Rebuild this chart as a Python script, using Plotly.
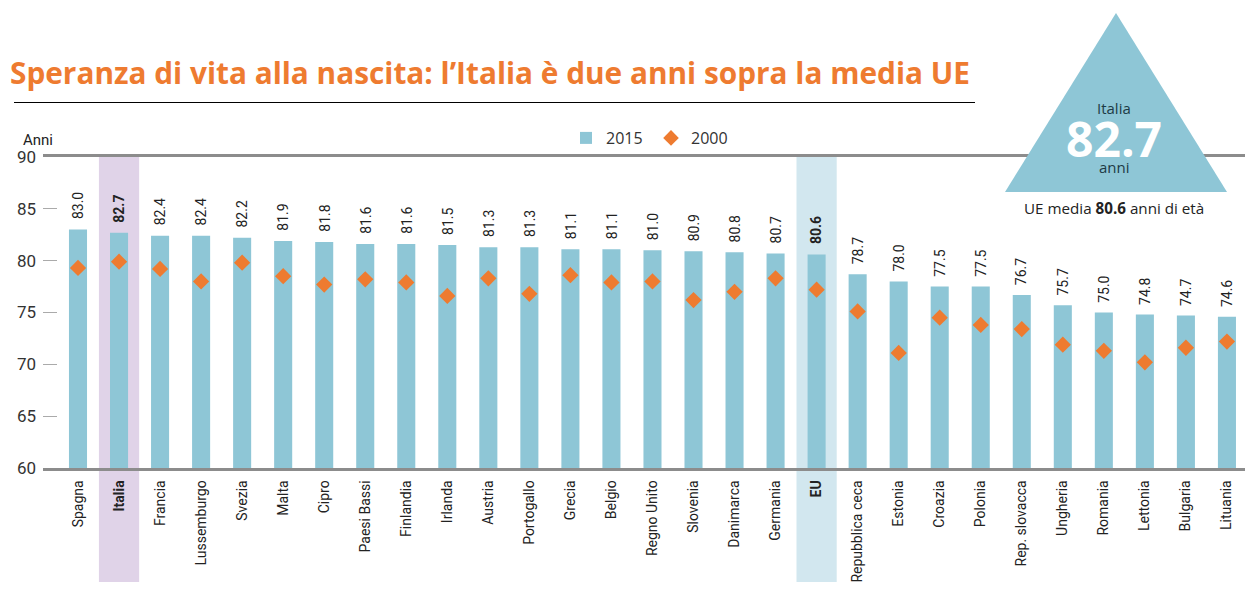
import plotly.graph_objects as go

countries = ["Spagna","Italia","Francia","Lussemburgo","Svezia","Malta","Cipro","Paesi Bassi","Finlandia","Irlanda","Austria","Portogallo","Grecia","Belgio","Regno Unito","Slovenia","Danimarca","Germania","EU","Repubblica ceca","Estonia","Croazia","Polonia","Rep. slovacca","Ungheria","Romania","Lettonia","Bulgaria","Lituania"]
v2015 = [83.0,82.7,82.4,82.4,82.2,81.9,81.8,81.6,81.6,81.5,81.3,81.3,81.1,81.1,81.0,80.9,80.8,80.7,80.6,78.7,78.0,77.5,77.5,76.7,75.7,75.0,74.8,74.7,74.6]
v2000 = [79.3,79.9,79.2,78.0,79.8,78.5,77.7,78.2,77.9,76.6,78.3,76.8,78.6,77.9,78.0,76.2,77.0,78.3,77.2,75.1,71.1,74.5,73.8,73.4,71.9,71.3,70.2,71.6,72.2]
highlight = {"Italia", "EU"}
yticks = [60,65,70,75,80,85,90]

W, H = 1257, 597
L, R, T, B = 43, 12, 157, 129
PW, PH = W-L-R, H-T-B
def px(x): return (x-L)/PW
def py(y): return (H-B-y)/PH

TEAL = "#8ec6d6"
ORANGE = "#ee7b30"
NARROW = "Roboto, sans-serif"
SANS = "Open Sans, sans-serif"

def mark(name, v):
    return f"<b>{v}</b>" if name in highlight else str(v)

fig = go.Figure()
fig.add_trace(go.Bar(
    x=countries, y=v2015, name="2015", marker=dict(color=TEAL, line_width=0), width=0.44,
))
fig.add_trace(go.Scatter(
    x=countries, y=v2000, name="2000", mode="markers",
    marker=dict(symbol="diamond", color=ORANGE, size=12.5),
))

shapes = []
for name, col in (("Italia", "#e0d3e8"), ("EU", "#d2e7ef")):
    i = countries.index(name)
    shapes.append(dict(type="rect", layer="below", xref="x", yref="paper",
                       x0=i-0.49, x1=i+0.49, y0=py(582), y1=1, fillcolor=col, line_width=0))
shapes.append(dict(type="line", xref="paper", yref="paper", x0=px(14), x1=px(975), y0=py(102.5), y1=py(102.5),
                   line=dict(color="#000", width=1)))
shapes.append(dict(type="path", xref="paper", yref="paper", fillcolor=TEAL, line_width=0, layer="above",
                   path=f"M {px(1005)} {py(192)} L {px(1116)} {py(13)} L {px(1227)} {py(192)} Z"))

def note(text, x, y, size, color="#222", family=SANS, anchor="center"):
    return dict(text=text, xref="paper", yref="paper", x=px(x), y=py(y), showarrow=False,
                xanchor=anchor, yanchor="middle", font=dict(size=size, color=color, family=family))

annotations = [
    note("<b>Speranza di vita alla nascita: l’Italia è due anni sopra la media UE</b>", 8, 72, 29.8, ORANGE, anchor="left"),
    note("Anni", 21, 140, 15, anchor="left", family=NARROW),
    note("Italia", 1114, 108, 15, "#1d3a45"),
    note("<b>82.7</b>", 1114, 139, 48, "#ffffff"),
    note("anni", 1114, 167, 15, "#1d3a45"),
    note("UE media <b>80.6</b> anni di età", 1114, 208, 15.2),
]
for c, v in zip(countries, v2015):
    annotations.append(dict(text=mark(c, f"{v:.1f}"), x=c, y=v, xref="x", yref="y", showarrow=False,
                            textangle=-90, xanchor="center", yanchor="bottom", yshift=8,
                            font=dict(family=NARROW, size=14, color="#222")))

fig.update_layout(
    width=W, height=H, autosize=False,
    margin=dict(l=L, r=R, t=T, b=B, pad=0),
    paper_bgcolor="white", plot_bgcolor="white",
    shapes=shapes, annotations=annotations,
    showlegend=True,
    legend=dict(orientation="h", x=px(566), y=py(138), xanchor="left", yanchor="middle",
                font=dict(family=SANS, size=16, color="#333"), traceorder="normal",
                itemsizing="constant", bgcolor="rgba(0,0,0,0)", entrywidth=40, entrywidthmode="pixels"),
    xaxis=dict(type="category", range=[-0.853, 28.44], showline=True, mirror=True, linecolor="#8c8c8c", linewidth=2.5,
               showgrid=False, ticks="", tickangle=-90, ticklabelstandoff=4,
               tickmode="array", tickvals=countries, ticktext=[mark(c, c) for c in countries],
               tickfont=dict(family=NARROW, size=14, color="#222"), automargin=False),
    yaxis=dict(range=[60,90], tickvals=yticks, showgrid=False, zeroline=False, ticks="inside", ticklen=14,
               tickcolor="#aaaaaa", tickwidth=1, showline=False, ticklabelstandoff=6,
               tickfont=dict(family=NARROW, size=17, color="#333"), automargin=False),
)
fig.write_html("out.html", config={"displayModeBar": False}, post_script="document.body.style.margin='0';")
